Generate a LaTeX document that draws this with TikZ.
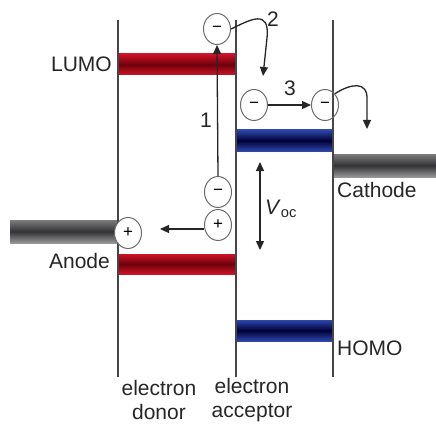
\documentclass[tikz,border=0pt]{standalone}
\usepackage{fontspec}
\setmainfont{Liberation Sans}
\usetikzlibrary{arrows.meta,shapes.geometric}
\definecolor{redE}{RGB}{205,20,40}
\definecolor{redC}{RGB}{110,0,10}
\definecolor{bluE}{RGB}{45,70,170}
\definecolor{bluC}{RGB}{0,0,55}
\definecolor{grE}{RGB}{125,125,125}
\definecolor{grC}{RGB}{50,50,55}
\definecolor{lineC}{RGB}{70,70,70}
\tikzset{
  vline/.style={draw=lineC, line width=1.4pt},
  charge/.style={ellipse, draw=lineC!80, line width=1pt, minimum width=27pt, minimum height=31pt, inner sep=0pt, font=\fontsize{17}{17}\selectfont},
  conn/.style={draw=black!85, line width=1.3pt, -{Triangle[length=9pt,width=8pt]}},
  lbl/.style={font=\fontsize{21}{24}\selectfont, text=black!85, inner sep=0pt},
}
\begin{document}
\begin{tikzpicture}[x=1pt,y=-1pt]
\useasboundingbox (0,0) rectangle (436,425);
% electrodes
\shade[top color=grE, bottom color=grE!80, middle color=grC] (10,220) rectangle (118,243);
\shade[top color=grE, bottom color=grE!80, middle color=grC] (333,154) rectangle (436,177);
% bands
\shade[top color=redE, bottom color=redE, middle color=redC] (118,54) rectangle (236,75);
\shade[top color=redE, bottom color=redE, middle color=redC] (118,254) rectangle (236,274);
\shade[top color=bluE, bottom color=bluE, middle color=bluC] (236,130) rectangle (333,151);
\shade[top color=bluE, bottom color=bluE, middle color=bluC] (236,320) rectangle (333,341);
% vertical lines
\draw[vline] (118,20) -- (118,377);
\draw[vline] (236,20) -- (236,377);
\draw[vline] (333,20) -- (333,377);
% charges
\node[charge] (tm) at (217,29) {−};
\node[charge] (lm) at (254,105) {−};
\node[charge] (rm) at (325,105) {−};
\node[charge] (em) at (218,192) {−};
\node[charge] (hp) at (218,225) {+};
\node[charge, fill=white] (ap) at (128,233) {+};
% free ends
\coordinate (c2) at (263,76);
\coordinate (c4) at (367,129);
\coordinate (c5) at (160,229);
\coordinate (vt) at (260,162);
\coordinate (vb) at (260,250);
% connectors
\draw[conn] (em.north) -- (tm.south);
\draw[conn] (tm.east) .. controls (250,20) and (270,8) .. (267,38) -- (c2);
\draw[conn] (lm.east) -- (rm.west);
\draw[conn] (rm.north east) .. controls (350,84) and (368,80) .. (367,100) -- (c4);
\draw[conn] (hp.west |- c5) -- (c5);
\draw[conn, {Triangle[length=9pt,width=8pt]}-{Triangle[length=9pt,width=8pt]}] (vt) -- (vb);
% labels
\node[lbl, anchor=east] (lumo) at (112,64) {LUMO};
\node[lbl, anchor=east] (anode) at (110,261) {Anode};
\node[lbl, anchor=west] (cath) at (337,190) {Cathode};
\node[lbl, anchor=west] (homo) at (337,348) {HOMO};
\node[lbl, align=center] (don) at (159,400) {electron\\donor};
\node[lbl, align=center] (acc) at (252,400) {electron\\acceptor};
\node[lbl] (n1) at (206,120) {1};
\node[lbl] (n2) at (273,19) {2};
\node[lbl] (n3) at (290,88) {3};
\node[lbl, anchor=west] (voc) at (265,209) {\textit{V}\textsubscript{oc}};
\end{tikzpicture}
\end{document}
